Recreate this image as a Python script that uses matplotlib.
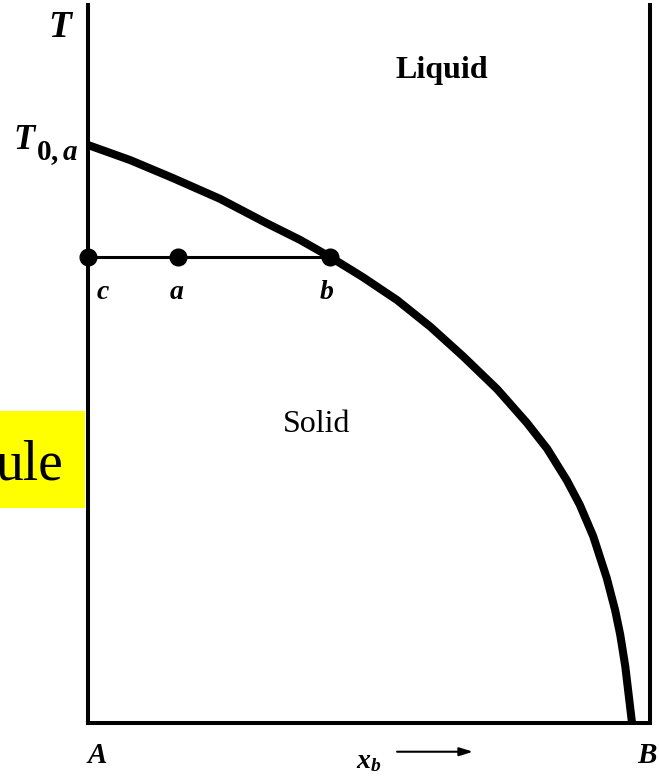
"""
Binary phase diagram sketch: liquidus curve from T0,a down to pure B,
with a horizontal tie line c - a - b at one temperature.
"""

import matplotlib
matplotlib.use("Agg")
import matplotlib.pyplot as plt
from matplotlib.patches import Rectangle

plt.rcParams["font.family"] = ["Liberation Serif", "DejaVu Serif"]
plt.rcParams["mathtext.fontset"] = "custom"
plt.rcParams["mathtext.it"] = "Liberation Serif:italic:bold"
plt.rcParams["mathtext.rm"] = "Liberation Serif:bold"

# liquidus curve (mole fraction of B, reduced temperature)
curve_x = [0.000, 0.075, 0.151, 0.235, 0.318, 0.377, 0.431, 0.489, 0.550, 0.609, 0.667,
           0.728, 0.781, 0.817, 0.852, 0.875, 0.899, 0.923, 0.938, 0.947, 0.956, 0.968]
curve_T = [0.805, 0.784, 0.759, 0.730, 0.696, 0.673, 0.649, 0.621, 0.589, 0.552, 0.511,
           0.465, 0.418, 0.382, 0.338, 0.304, 0.260, 0.202, 0.157, 0.123, 0.079, 0.000]

# tie line at one temperature
tie_T = 0.649
tie_x = [0.000, 0.160, 0.431]
tie_labels = ["c", "a", "b"]

BLACK = "#000000"
YELLOW = "#FFFF00"

fig = plt.figure(figsize=(6.59, 7.82), dpi=100)
ax = fig.add_axes([88 / 659, 59 / 782, 562 / 659, 718 / 782])
ax.set_xlim(0, 1)
ax.set_ylim(0, 1)

for side in ("left", "right", "bottom"):
    ax.spines[side].set_linewidth(2.9)
    ax.spines[side].set_color(BLACK)
ax.spines["top"].set_visible(False)
ax.set_xticks([])
ax.set_yticks([])

# liquidus
ax.plot(curve_x, curve_T, color=BLACK, lw=5.8, solid_capstyle="butt",
        solid_joinstyle="round", clip_on=False, zorder=3)

# tie line and its points
ax.plot([tie_x[0], tie_x[-1]], [tie_T, tie_T], color=BLACK, lw=2.2, zorder=3)
ax.plot(tie_x, [tie_T] * len(tie_x), "o", color=BLACK, ms=12, clip_on=False, zorder=4)

lab = dict(fontsize=20, fontstyle="italic", fontweight="bold", ha="center", va="center")
for xv, name, dx in zip(tie_x, tie_labels, [0.027, -0.002, -0.006]):
    ax.text(xv + dx, 0.600, name, **lab)

# axis labels
ax.text(-0.050, 0.968, "T", fontsize=27, fontstyle="italic", fontweight="bold",
        ha="center", va="center", clip_on=False)
ax.text(-0.113, 0.811, "T", fontsize=25, fontstyle="italic", fontweight="bold",
        ha="center", va="center", clip_on=False)
ax.text(-0.093, 0.794, r"$0,a$", fontsize=21, ha="left", va="center", clip_on=False)
ax.text(0.016, -0.045, "A", fontsize=21, fontstyle="italic", fontweight="bold",
        ha="center", va="center", clip_on=False)
ax.text(0.995, -0.045, "B", fontsize=21, fontstyle="italic", fontweight="bold",
        ha="center", va="center", clip_on=False)
ax.text(0.500, -0.054, r"$x_b$", fontsize=20, ha="center", va="center", clip_on=False)
ax.annotate("", xy=(0.685, -0.040), xytext=(0.550, -0.040), xycoords="data",
            annotation_clip=False,
            arrowprops=dict(arrowstyle="-|>,head_length=0.8,head_width=0.25",
                            color=BLACK, lw=1.5, shrinkA=0, shrinkB=0))

# region names
ax.text(0.630, 0.909, "Liquid", fontsize=23, fontweight="bold", ha="center", va="center")
ax.text(0.406, 0.416, "Solid", fontsize=23, ha="center", va="center")

# highlighted note cut at the left edge
fig.patches.append(Rectangle((0, 1 - 508 / 782), 85 / 659, 97 / 782,
                             transform=fig.transFigure, facecolor=YELLOW,
                             edgecolor="none", zorder=0))
fig.text(63 / 659, 1 - 480 / 782, "ule", fontsize=40, ha="right", va="baseline")

fig.savefig("out.png", dpi=100, facecolor="white")
